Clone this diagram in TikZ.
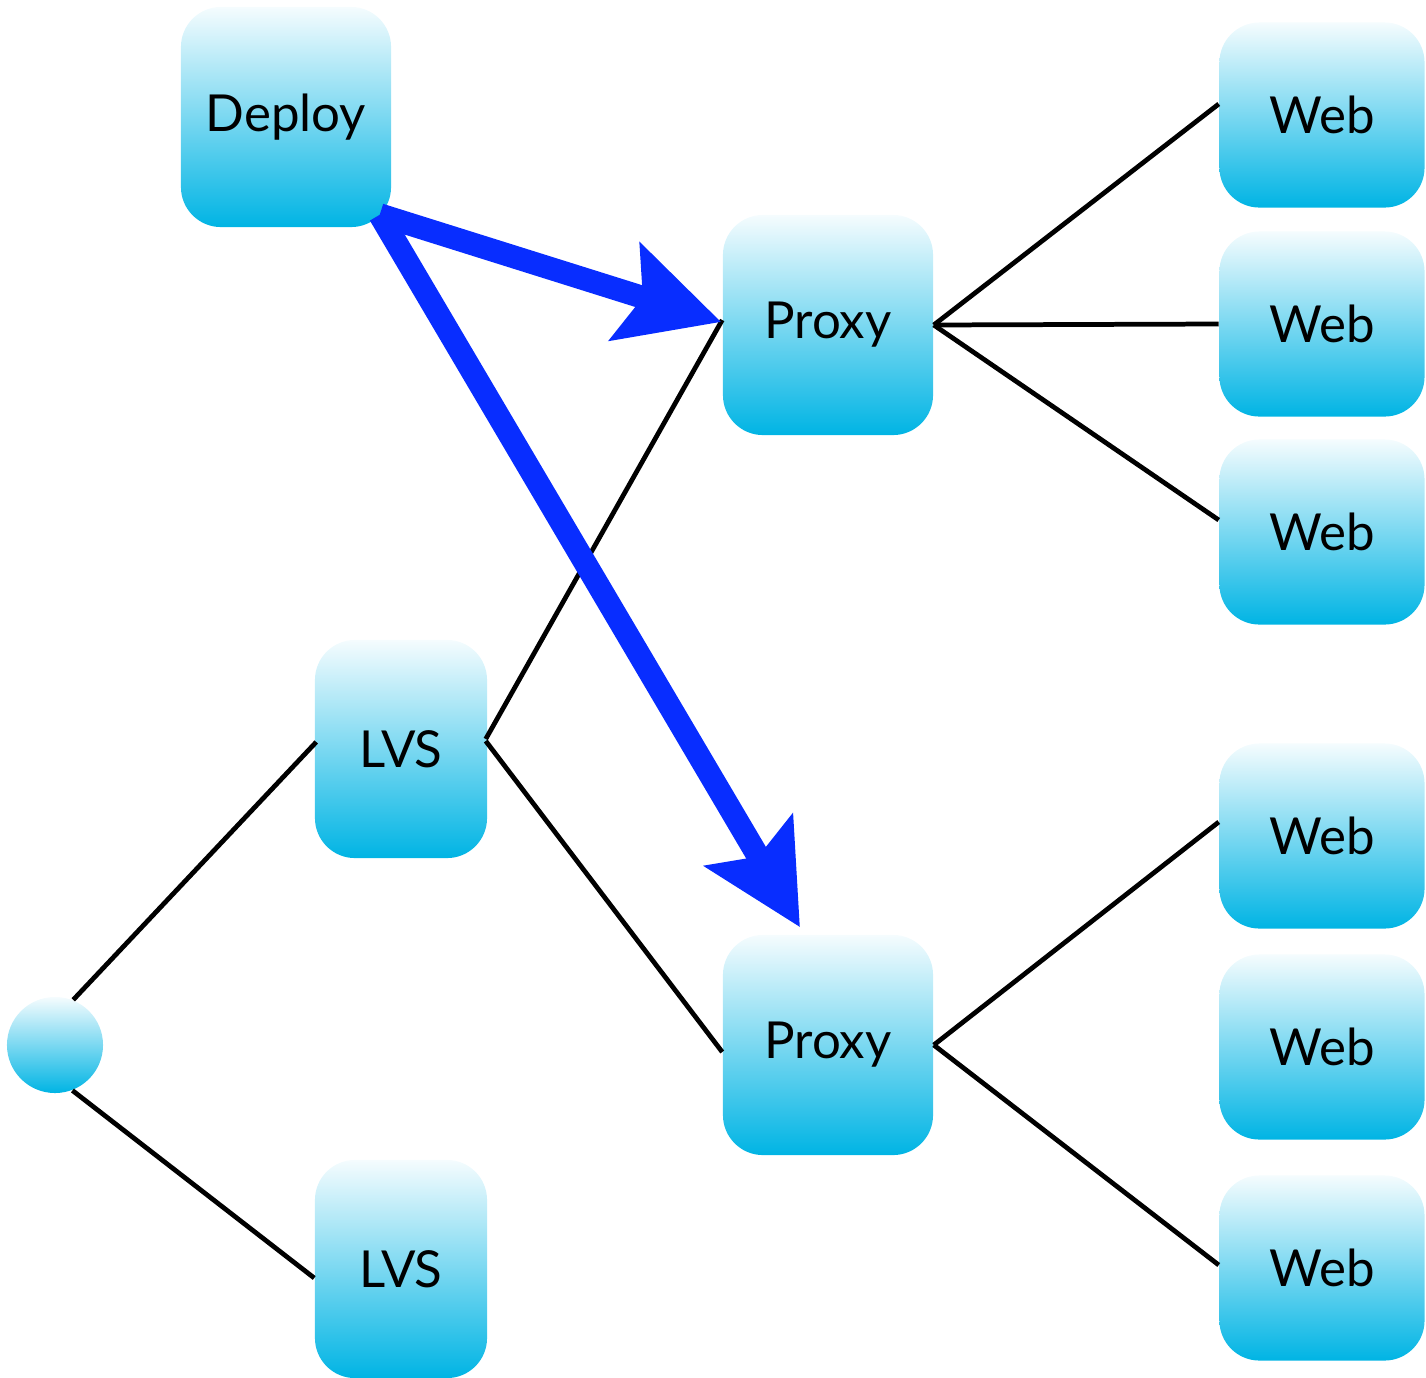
\documentclass[tikz,border=0pt]{standalone}
\usepackage{fontspec}
\setmainfont{Lato}
\usetikzlibrary{arrows.meta,calc}
\definecolor{boxcyan}{RGB}{0,180,228}
\definecolor{pushblue}{RGB}{8,45,255}
\begin{document}
\begin{tikzpicture}
        [x=0.01cm, y=-0.01cm,
        box/.style={rectangle, rounded corners=0.4cm, inner sep=0pt, shading=axis,
            top color=boxcyan!4!white, bottom color=boxcyan, font=\fontsize{14.5}{18}\selectfont},
        wide/.style={box, minimum width=2.1cm, minimum height=2.2cm},
        web/.style={box, minimum width=2.05cm, minimum height=1.85cm},
        lvs/.style={box, minimum width=1.72cm, minimum height=2.18cm},
        hub/.style={circle, inner sep=0pt, minimum size=0.96cm, shading=axis,
            top color=boxcyan!4!white, bottom color=boxcyan},
        link/.style={line width=1.35pt, black},
        push/.style={line width=6.5pt, pushblue, -{Stealth[length=1cm, width=1cm, inset=0.18cm]}}]
        \useasboundingbox (0,0) rectangle (1426,1378);
        \node[wide] (D) at (286,117) {Deploy};
        \node[wide] (P1) at (828,325) {Proxy};
        \node[wide] (P2) at (828,1045) {Proxy};
        \node[lvs] (L1) at (401,749) {LVS};
        \node[lvs] (L2) at (401,1269) {LVS};
        \node[hub] (H) at (55,1045) {};
        \node[web] (W1) at (1322,115) {Web};
        \node[web] (W2) at (1322,324) {Web};
        \node[web] (W3) at (1322,532) {Web};
        \node[web] (W4) at (1322,836) {Web};
        \node[web] (W5) at (1322,1047) {Web};
        \node[web] (W6) at (1322,1268) {Web};

        \draw[link] (H.68) -- ($(L1.west)+(2,-7)$);
        \draw[link] (H.-69) -- ($(L2.west)+(0,9)$);
        \draw[link] ($(L1.east)+(-2,-10)$) -- ($(P1.west)+(0,-5)$);
        \draw[link] ($(L1.east)+(-2,-8)$) -- ($(P2.west)+(0,7)$);
        \draw[link] (P1.east) -- ($(W1.west)+(0,-11)$);
        \draw[link] (P1.east) -- (W2.west);
        \draw[link] (P1.east) -- ($(W3.west)+(0,-12)$);
        \draw[link] (P2.east) -- ($(W4.west)+(0,-14)$);
        \draw[link] (P2.east) -- ($(W6.west)+(0,-3)$);

        % deploy pushes to both proxies
        \coordinate (Dc) at ($(D.south east)+(-12,-13)$);
        \draw[push] (Dc) -- ($(P1.west)+(-1,-3)$);
        \draw[push] (Dc) -- ($(P2.north)+(-28,-7)$);
    \end{tikzpicture}
\end{document}
